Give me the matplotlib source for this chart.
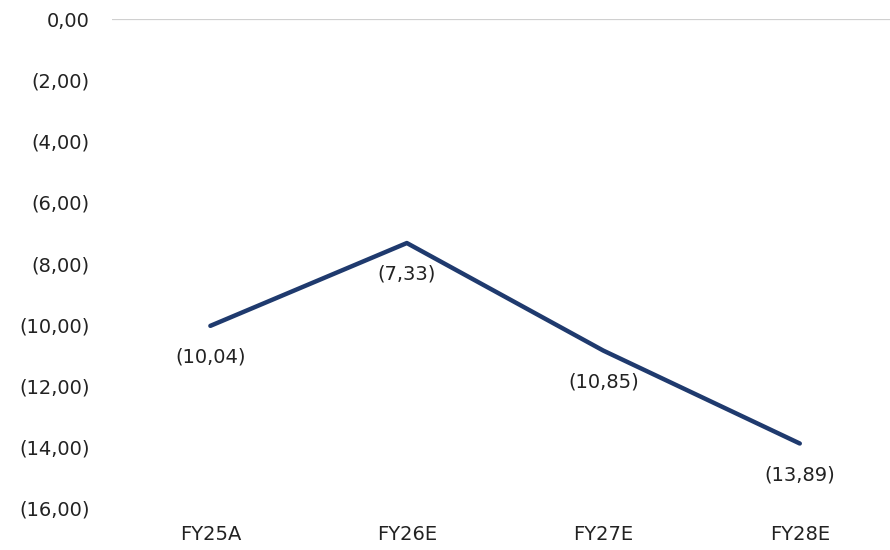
import matplotlib
matplotlib.use('Agg')
import matplotlib.pyplot as plt

categories = ['FY25A', 'FY26E', 'FY27E', 'FY28E']
values = [-10.04, -7.33, -10.85, -13.89]
yticks = [0, -2, -4, -6, -8, -10, -12, -14, -16]

plt.rcParams['font.family'] = ['DejaVu Sans']

def fmt(v):
    s = '{:.2f}'.format(abs(v)).replace('.', ',')
    return '(' + s + ')' if v < 0 else s

fig = plt.figure(figsize=(8.9, 5.5), dpi=100)
ax = fig.add_axes([0.126, 0.0764, 0.883, 0.889])
x = list(range(len(categories)))
ax.plot(x, values, color='#1f3a6e', linewidth=3.2, solid_capstyle='round')
for xi, v in zip(x, values):
    ax.annotate(fmt(v), (xi, v), xytext=(0, -22.5), textcoords='offset points',
                ha='center', va='center', fontsize=14, color='#222222')

ax.set_xlim(-0.5, 3.5)
ax.set_ylim(-16, 0)
ax.set_yticks(yticks)
ax.set_yticklabels([fmt(t) for t in yticks], fontsize=14, color='#222222')
ax.set_xticks(x)
ax.set_xticklabels(categories, fontsize=14, color='#222222')
ax.tick_params(axis='y', length=0, pad=16)
ax.tick_params(axis='x', length=0, pad=12)
ax.axhline(0, color='#d0d0d0', linewidth=1.6, zorder=0)
for s in ax.spines.values():
    s.set_visible(False)

fig.savefig('out.png', dpi=100)
